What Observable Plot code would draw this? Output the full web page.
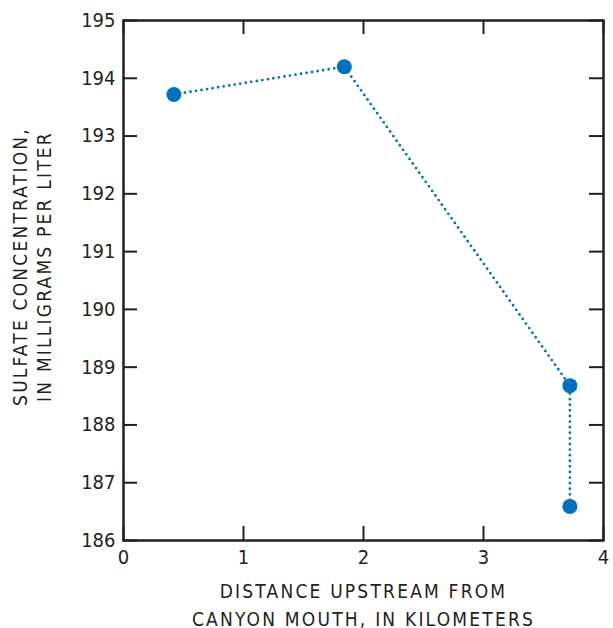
<!DOCTYPE html>
<html>
<head>
<meta charset="utf-8">
<script src="https://cdn.jsdelivr.net/npm/d3@7"></script>
<script src="https://cdn.jsdelivr.net/npm/@observablehq/plot@0.6"></script>
<style>
  html, body { margin: 0; padding: 0; background: #fff; }
  #chart svg { display: block; }
</style>
</head>
<body>
<div id="chart"></div>
<script>
const distanceKm = [0.42, 1.84, 3.72, 3.72];
const sulfateMgL = [193.72, 194.2, 188.68, 186.59];
const xTicks = [0, 1, 2, 3, 4];
const yTicks = [186, 187, 188, 189, 190, 191, 192, 193, 194, 195];
const xLabel = "DISTANCE UPSTREAM FROM\nCANYON MOUTH, IN KILOMETERS";
const yLabel = "SULFATE CONCENTRATION,\nIN MILLIGRAMS PER LITER";

const data = distanceKm.map((d, i) => ({x: d, y: sulfateMgL[i]}));

const W = 613, H = 628, mL = 123, mR = 10, mT = 20, mB = 88;
const plotW = W - mL - mR, plotH = H - mT - mB;
const tickLen = 14;
const ink = "#231f20";
const blue = "#0070c0";
const font = '"Liberation Sans Narrow", "DejaVu Sans Condensed", "Roboto", sans-serif';

const chart = Plot.plot({
  width: W, height: H,
  marginLeft: mL, marginRight: mR, marginTop: mT, marginBottom: mB,
  style: {fontFamily: font, color: ink, background: "#fff"},
  x: {domain: [0, 4], ticks: xTicks, label: null},
  y: {domain: [186, 195], ticks: yTicks, label: null},
  marks: [
    Plot.tickX(xTicks, {x: d => d, stroke: ink, strokeWidth: 2, insetTop: plotH - tickLen}),
    Plot.tickX(xTicks, {x: d => d, stroke: ink, strokeWidth: 2, insetBottom: plotH - tickLen}),
    Plot.tickY(yTicks, {y: d => d, stroke: ink, strokeWidth: 2, insetRight: plotW - tickLen}),
    Plot.tickY(yTicks, {y: d => d, stroke: ink, strokeWidth: 2, insetLeft: plotW - tickLen}),
    Plot.frame({stroke: ink, strokeWidth: 2.5}),
    Plot.axisX(xTicks, {tickSize: 0, tickPadding: 9, fontSize: 20, fill: ink, tickFormat: d3.format("d")}),
    Plot.axisY(yTicks, {tickSize: 0, tickPadding: 8, fontSize: 20, fill: ink, tickFormat: d3.format("d")}),
    Plot.line(data, {x: "x", y: "y", stroke: blue, strokeWidth: 2.8, strokeDasharray: "0,5.6", strokeLinecap: "round"}),
    Plot.dot(data, {x: "x", y: "y", r: 7.5, fill: blue, stroke: "none"}),
    Plot.text([xLabel], {text: d => d, frameAnchor: "bottom", dy: 85, fontSize: 19, lineHeight: 1.45, fill: ink, textAnchor: "middle"}),
    Plot.text([yLabel], {text: d => d, frameAnchor: "left", dx: -92, dy: -14, rotate: -90, fontSize: 19, lineHeight: 1.25, fill: ink, textAnchor: "middle"})
  ]
});
d3.select(chart).selectAll('g[aria-label="text"] text').attr("letter-spacing", "2.2px");
document.getElementById("chart").appendChild(chart);
</script>
</body>
</html>
